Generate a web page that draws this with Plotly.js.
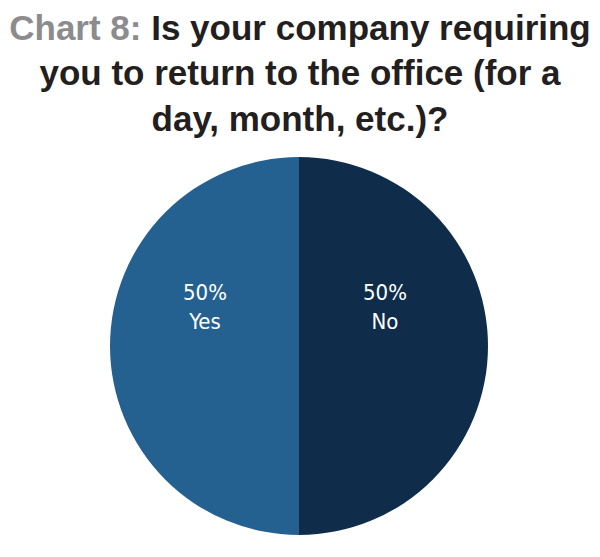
<!DOCTYPE html>
<html>
<head>
<meta charset="utf-8">
<script src="https://cdn.plot.ly/plotly-3.0.1.min.js"></script>
<style>html,body{margin:0;padding:0;background:#fff;}#chart{width:600px;height:557px;}</style>
</head>
<body>
<div id="chart"></div>
<script>
const labels = ["Yes", "No"];
const values = [50, 50];
const colors = ["#246191", "#0f2d4b"];
const titlePrefix = "Chart 8:";
const titleText = "Is your company requiring<br>you to return to the office (for a<br>day, month, etc.)?";

const total = values.reduce((a, b) => a + b, 0);
const labelFont = {family: "DejaVu Sans Condensed, Liberation Sans, sans-serif", size: 22, color: "#ffffff"};

const annX = [0.25, 0.728];
const annotations = labels.map((l, i) => ({
  xref: "paper", yref: "paper", x: annX[i], y: 0.603,
  xanchor: "center", yanchor: "middle",
  text: Math.round(values[i] / total * 100) + "%<br>" + l,
  showarrow: false, font: labelFont, align: "center"
}));

Plotly.newPlot("chart", [{
  type: "pie",
  labels: labels,
  values: values,
  sort: false,
  direction: "clockwise",
  rotation: 180,
  marker: {colors: colors, line: {width: 0}},
  textinfo: "none",
  hoverinfo: "label+percent",
  showlegend: false
}], {
  width: 600, height: 557,
  margin: {l: 110, r: 112, t: 157, b: 22},
  paper_bgcolor: "#ffffff",
  title: {
    text: '<span style="color:#8c8c8e">' + titlePrefix + '</span> ' + titleText,
    font: {family: "Liberation Sans, Arial, sans-serif", size: 35, color: "#231f20", weight: "bold"},
    x: 0.5, xanchor: "center", y: 0.929, yanchor: "top", yref: "container"
  },
  annotations: annotations
}, {displayModeBar: false, staticPlot: true});
</script>
</body>
</html>
